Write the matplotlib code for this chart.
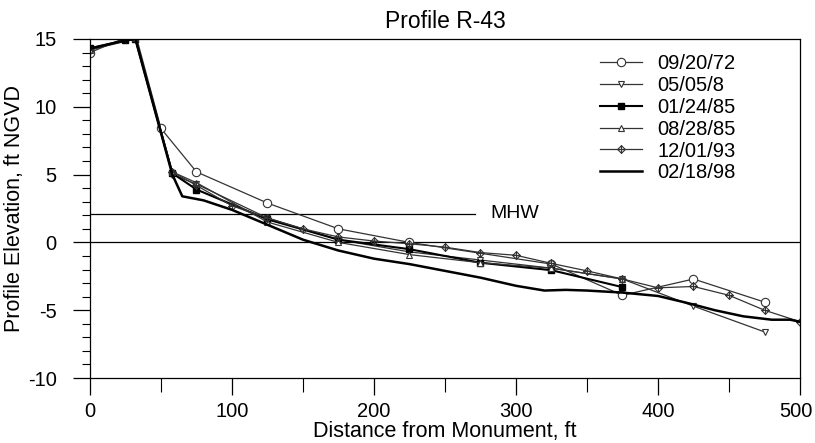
import numpy as np
import matplotlib.pyplot as plt
import matplotlib.transforms as mtransforms
from matplotlib.path import Path

plt.rcParams['font.family'] = ['Liberation Sans', 'DejaVu Sans']
plt.rcParams['axes.unicode_minus'] = False

# Survey profiles: distance from monument [ft] vs elevation [ft NGVD]
x_720920 = [0, 32, 50, 75, 125, 175, 225, 325, 375, 425, 475]
y_720920 = [14.0, 15.4, 8.4, 5.2, 2.9, 1.0, 0.0, -1.6, -3.9, -2.7, -4.4]

x_8x0505 = [0, 32, 58, 75, 125, 175, 225, 275, 325, 375, 425, 475]
y_8x0505 = [14.2, 15.0, 5.0, 4.3, 1.8, 0.2, -0.7, -1.3, -1.9, -2.7, -4.7, -6.6]

x_850124 = [0, 25, 32, 58, 75, 125, 175, 225, 275, 325, 375]
y_850124 = [14.3, 14.9, 15.0, 5.1, 3.9, 1.7, 0.2, -0.5, -1.5, -2.05, -3.3]

x_850828 = [0, 32, 58, 75, 125, 175, 225, 275, 325, 375]
y_850828 = [14.2, 15.1, 5.2, 4.4, 1.5, 0.0, -0.9, -1.5, -1.9, -2.7]

x_931201 = [0, 32, 58, 75, 100, 125, 150, 175, 200, 225, 250, 275, 300, 325,
            350, 375, 400, 425, 450, 475, 500]
y_931201 = [14.2, 15.1, 5.2, 4.2, 2.7, 1.8, 1.0, 0.4, 0.1, -0.1, -0.35, -0.75,
            -0.95, -1.55, -2.1, -2.7, -3.35, -3.25, -3.9, -5.0, -5.85]

x_980218 = [0, 25, 32, 58, 65, 80, 100, 125, 150, 175, 200, 225, 250, 275, 300,
            320, 335, 350, 375, 400, 420, 440, 460, 480, 493, 500]
y_980218 = [14.3, 14.9, 15.0, 5.0, 3.4, 3.1, 2.4, 1.3, 0.2, -0.6, -1.2, -1.6,
            -2.1, -2.6, -3.2, -3.55, -3.5, -3.55, -3.7, -3.95, -4.45, -5.0,
            -5.45, -5.7, -5.7, -5.85]

mhw = 2.1
mhw_end = 271

# diamond with a cross inside
verts = [(0, 1), (1, 0), (0, -1), (-1, 0), (0, 1), (0, 1), (0, -1), (-1, 0), (1, 0)]
codes = [Path.MOVETO, Path.LINETO, Path.LINETO, Path.LINETO, Path.CLOSEPOLY,
         Path.MOVETO, Path.LINETO, Path.MOVETO, Path.LINETO]
diamond_cross = Path(verts, codes)

fig = plt.figure(figsize=(8.15, 4.43), dpi=100)
ax = fig.add_axes([0.1104, 0.1467, 0.8712, 0.7653])

ax.axhline(0, color='black', lw=0.9, zorder=1)
ax.plot([0, mhw_end], [mhw, mhw], color='black', lw=0.9, zorder=1)
ax.text(282, mhw, 'MHW', fontsize=14, va='center', ha='left')

ax.plot(x_720920, y_720920, color='#333333', lw=0.9, marker='o', ms=6,
        mfc='white', mec='#333333', mew=0.8, label='09/20/72')
ax.plot(x_8x0505, y_8x0505, color='#333333', lw=0.9, marker='v', ms=5,
        mfc='white', mec='#333333', mew=0.8, label='05/05/8')
ax.plot(x_850124, y_850124, color='black', lw=1.5, marker='s', ms=4.5,
        mfc='black', mec='black', label='01/24/85')
ax.plot(x_850828, y_850828, color='#333333', lw=0.9, marker='^', ms=5,
        mfc='white', mec='#333333', mew=0.8, label='08/28/85')
ax.plot(x_931201, y_931201, color='#333333', lw=0.9, marker=diamond_cross, ms=5.5,
        mfc='none', mec='#333333', mew=0.8, label='12/01/93')
ax.plot(x_980218, y_980218, color='black', lw=1.8, label='02/18/98')

ax.set_xlim(0, 500)
ax.set_ylim(-10, 15)
ax.set_xticks(np.arange(0, 501, 100))
ax.set_xticks(np.arange(50, 500, 100), minor=True)
ax.set_yticks(np.arange(-10, 16, 5))
ax.set_yticks(np.arange(-10, 16, 1), minor=True)
ax.tick_params(which='major', direction='out', length=12, width=0.9, labelsize=14.5)
ax.tick_params(which='minor', direction='out', length=6, width=0.8)
ax.tick_params(axis='x', which='minor', length=10)
ax.tick_params(axis='y', which='major', pad=12)
ax.tick_params(axis='x', which='major', pad=5)
for s in ax.spines.values():
    s.set_linewidth(0.9)

# nudge the last x label so it stays inside the figure
last = ax.get_xticklabels()[-1]
last.set_transform(last.get_transform() +
                   mtransforms.ScaledTranslation(-4 / 100, 0, fig.dpi_scale_trans))

ax.set_title('Profile R-43', fontsize=16.5, pad=8)
ax.set_xlabel('Distance from Monument, ft', fontsize=15.5, labelpad=0)
ax.set_ylabel('Profile Elevation, ft NGVD', fontsize=15.5, labelpad=2)

leg = ax.legend(loc='upper left', bbox_to_anchor=(0.718, 0.955), fontsize=14.5,
                frameon=False, handlelength=2.1, labelspacing=0.14,
                borderpad=0.0, borderaxespad=0.0, handletextpad=0.75)

fig.savefig('out.png', dpi=100)
